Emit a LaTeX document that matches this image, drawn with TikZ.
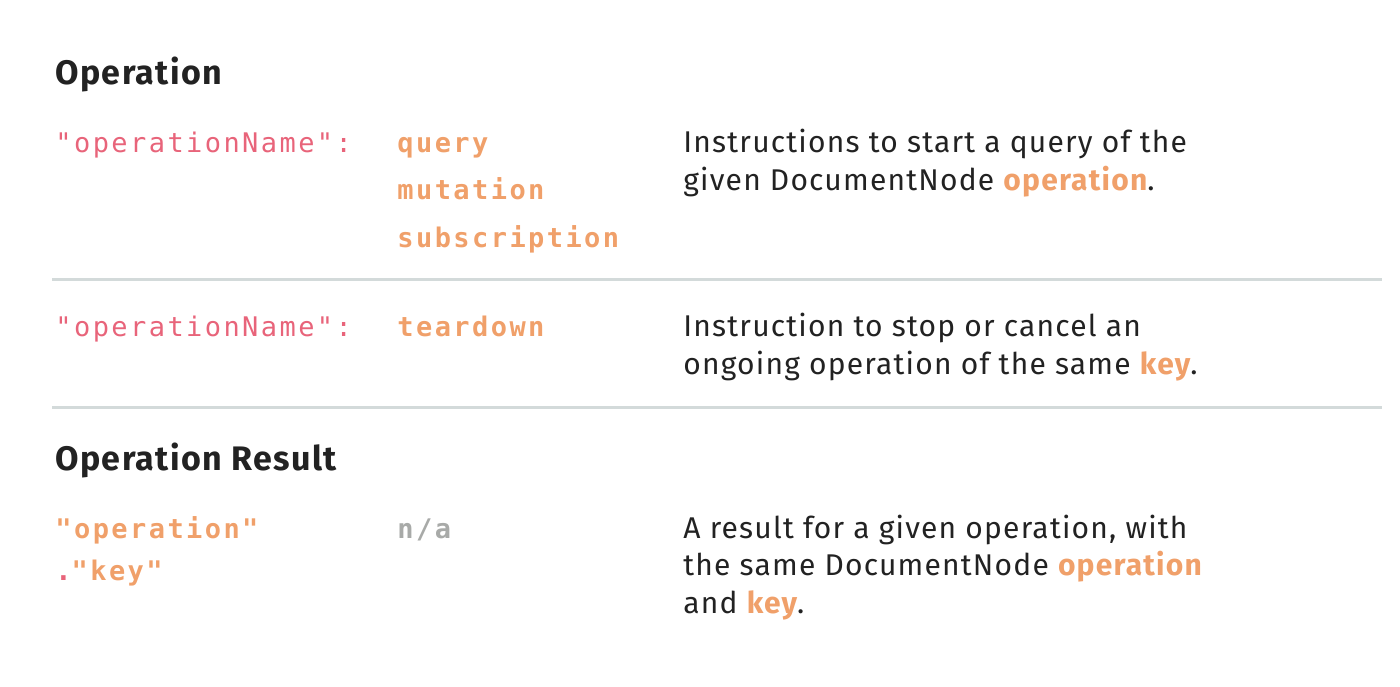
\documentclass[tikz,border=0pt]{standalone}
\usepackage{fontspec}
\setmainfont{Fira Sans}
\newfontfamily\codefont[LetterSpace=9]{DejaVu Sans Mono}
\newfontfamily\bodyfont[LetterSpace=4]{Fira Sans}
\definecolor{pinkc}{HTML}{E8647A}
\definecolor{orangec}{HTML}{F0A06A}
\definecolor{greyc}{HTML}{A8AAA8}
\definecolor{darkc}{HTML}{222222}
\definecolor{rulec}{HTML}{D3DADA}
\newcommand{\hl}[1]{\textcolor{orangec}{\bfseries #1}}
\begin{document}
\begin{tikzpicture}[x=0.5pt,y=-0.5pt,
  t/.style={anchor=base west,inner sep=0pt,text=darkc,font=\fontsize{15}{18}\selectfont\bodyfont},
  hd/.style={t,font=\fontsize{17}{20}\selectfont\bodyfont\bfseries},
  code/.style={t,text=pinkc,font=\fontsize{13.5}{16}\selectfont\codefont},
  val/.style={t,text=orangec,font=\fontsize{13.5}{16}\selectfont\codefont\bfseries},
  na/.style={t,text=greyc,font=\fontsize{13.5}{16}\selectfont\codefont\bfseries},
  sep/.style={draw=rulec,line width=1.5pt}]
\useasboundingbox (0,0) rectangle (1400,686);
\node[hd] (h1) at (55,84) {Operation};
\node[code] (c1) at (55,152) {"operationName":};
\node[val] (v1) at (397,152) {query};
\node[val] (v2) at (397,199) {mutation};
\node[val] (v3) at (397,247) {subscription};
\node[t] (d1) at (683,152) {Instructions to start a query of the};
\node[t] (d2) at (683,190) {given DocumentNode \hl{operation}.};
\coordinate (l1a) at (52,279); \coordinate (l1b) at (1382,279);
\draw[sep] (l1a) -- (l1b);
\node[code] (c2) at (55,336) {"operationName":};
\node[val] (v4) at (397,336) {teardown};
\node[t] (d3) at (683,336) {Instruction to stop or cancel an};
\node[t] (d4) at (683,374) {ongoing operation of the same \hl{key}.};
\coordinate (l2a) at (52,407); \coordinate (l2b) at (1382,407);
\draw[sep] (l2a) -- (l2b);
\node[hd] (h2) at (55,470) {Operation Result};
\node[val] (c3) at (55,538) {"operation"};
\node[val] (c4) at (55,580) {\textcolor{pinkc}{.}"key"};
\node[na] (n1) at (397,538) {n/a};
\node[t] (d5) at (683,538) {A result for a given operation, with};
\node[t] (d6) at (683,575) {the same DocumentNode \hl{operation}};
\node[t] (d7) at (683,613) {and \hl{key}.};
\end{tikzpicture}
\end{document}
